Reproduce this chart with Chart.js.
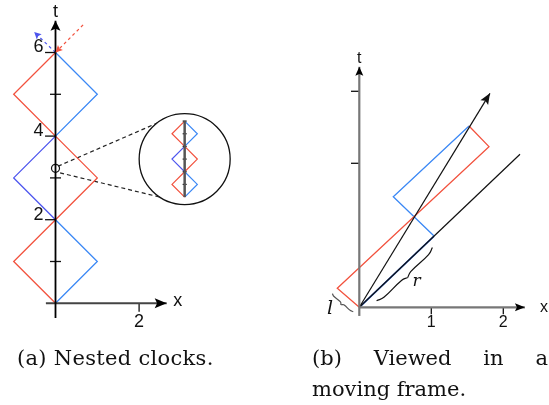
<!DOCTYPE html>
<html>
<head>
<meta charset="utf-8">
<script src="https://cdn.jsdelivr.net/npm/chart.js@4.4.0/dist/chart.umd.min.js"></script>
<style>
  body { margin: 0; background: #fff; }
  #wrap { position: relative; width: 549px; height: 405px; overflow: hidden; }
  #c { position: absolute; left: 0; top: 0; }
  .cap { position: absolute; font-family: "DejaVu Serif", serif; font-size: 21px; line-height: 21px; color: #111; white-space: nowrap; }
</style>
</head>
<body>
<div id="wrap">
  <canvas id="c" width="549" height="405"></canvas>
  <div class="cap" style="left:17px; top:348px; letter-spacing:0.3px;">(a) Nested clocks.</div>
  <div class="cap" style="left:312px; top:348px; width:236px; display:flex; justify-content:space-between;">
    <span>(b)</span><span>Viewed</span><span>in</span><span>a</span>
  </div>
  <div class="cap" style="left:312px; top:379px;">moving frame.</div>
</div>
<script>
// ---- (a) nested clocks, [x, t] ----
const clockRed  = [[0,0],[-1,1],[0,2],[1,3],[0,4],[-1,5],[0,6]];
const clockBlue = [[0,0],[1,1],[0,2],[-1,3],[0,4],[1,5],[0,6]];
const leftTTicks = [1,2,3,4,5,6];
const leftTLabels = [2,4,6];
const leftXTicks = [2];
const leftXLabels = [2];
const redIncoming = [[0.66,6.66],[0,6]];
const blueOutgoing = [[0,6],[-0.51,6.49]];
// magnified spot and the inset showing it
const zoomSpot = [0, 3.23];
const insetCentre = [3.09, 3.45];
const insetScale = 0.303;
const zoomLineUpper = [[0.06,3.28],[2.43,4.31]];
const zoomLineLower = [[0.11,3.12],[2.50,2.54]];

// ---- (b) viewed in a moving frame, [x, t] ----
const movRed  = [[0,0],[-0.306,0.264],[1.801,2.231],[1.524,2.518]];
const movBlue = [[0,0],[1.038,0.990],[0.472,1.536],[1.524,2.518]];
const worldLine = [[0,0],[1.815,2.972]];
const otherLine = [[0,0],[2.232,2.125]];
const rightXTicks = [1,2];
const rightXLabels = [1,2];
const rightTTicks = [2,3];
const rBrace = [0.236, 1.308];   // along the dark blue side
const lBrace = [0.025, 0.407];   // along the short red side

const pts = arr => arr.map(([x, y]) => ({ x: x, y: y }));

function line(data, color, ax, extra) {
    return Object.assign({
        data: pts(data), showLine: true, borderColor: color, borderWidth: 1.3,
        pointRadius: 0, fill: false, xAxisID: 'x' + ax, yAxisID: 'y' + ax
    }, extra || {});
}

function tickMarks(data, ax, radius, rotation, width) {
    return {
        data: pts(data), showLine: false, pointStyle: 'line', pointRadius: radius,
        rotation: rotation, pointBorderColor: '#111', pointBorderWidth: width || 1.3,
        xAxisID: 'x' + ax, yAxisID: 'y' + ax
    };
}

// curly brace next to the segment from origin along dir, between s0 and s1
function brace(dir, s0, s1, side, offs, color) {
    const len = Math.hypot(dir[0], dir[1]);
    const u = [dir[0] / len, dir[1] / len];
    const n = [u[1] * side, -u[0] * side];
    const L = s1 - s0;
    const at = (s, o) => [u[0] * s + n[0] * o, u[1] * s + n[1] * o];
    const half1 = [at(s0, offs[0]), at(s0 + 0.1 * L, offs[1]), at(s0 + 0.42 * L, offs[1]), at(s0 + 0.5 * L, offs[2])];
    const half2 = [at(s0 + 0.5 * L, offs[2]), at(s0 + 0.58 * L, offs[1]), at(s0 + 0.9 * L, offs[1]), at(s1, offs[0])];
    return [half1, half2].map(h => line(h, color, 'b', { tension: 0.45, borderWidth: 1.2 }));
}

const RED = '#f2523e', BLUE = '#3b88f5', PURPLE = '#4d55ee', DARKBLUE = '#1d5ad6';

// inset copies of the clocks
const toInset = ([x, t]) => [insetCentre[0] + x * insetScale, insetCentre[1] + (t - 3) * insetScale];
const insetRed = clockRed.map(toInset);
const insetBlue = clockBlue.map(toInset);
const insetAxis = [toInset([0, 0]), toInset([0, 6])];
const insetTicks = leftTTicks.map(t => toInset([0, t]));

// axis extents
const leftTTip = 6.76, leftXTip = 2.66;
const rightTTip = 3.34, rightXTip = 2.30;

const datasets = [
    // (a)
    line([[0,-0.35],[0,leftTTip]], '#000', 'a', { borderWidth: 1.8, arrow: { len: 10, width: 10, color: '#000' } }),
    line([[-0.23,0],[leftXTip,0]], '#444', 'a', { borderWidth: 2, arrow: { len: 12, width: 10, color: '#000' } }),
    tickMarks(leftTTicks.filter(t => t % 2 === 1).map(t => [0, t]), 'a', 5.5, 0),
    tickMarks(leftTTicks.filter(t => t % 2 === 0).map(t => [-0.126, t]), 'a', 5.2, 0),
    tickMarks(leftXTicks.map(x => [x, -0.1]), 'a', 4.3, 90),
    line(clockRed, RED, 'a'),
    line(clockBlue, BLUE, 'a', { segment: { borderColor: c => (c.p0DataIndex === 2 || c.p0DataIndex === 3) ? PURPLE : BLUE } }),
    line(redIncoming, RED, 'a', { borderDash: [3, 3], borderWidth: 1.2, arrow: { len: 7, width: 7 } }),
    line(blueOutgoing, PURPLE, 'a', { borderDash: [3, 3], borderWidth: 1.2, arrow: { len: 7, width: 7 } }),
    line(zoomLineUpper, '#222', 'a', { borderDash: [4, 3], borderWidth: 1.2 }),
    line(zoomLineLower, '#222', 'a', { borderDash: [4, 3], borderWidth: 1.2 }),
    { data: pts([zoomSpot]), showLine: false, pointRadius: 4, pointBorderWidth: 1.2,
      pointBorderColor: '#111', pointBackgroundColor: 'rgba(0,0,0,0)', xAxisID: 'xa', yAxisID: 'ya' },
    { data: pts([insetCentre]), showLine: false, pointRadius: 45.5, pointBorderWidth: 1.3,
      pointBorderColor: '#111', pointBackgroundColor: 'rgba(0,0,0,0)', xAxisID: 'xa', yAxisID: 'ya' },
    line(insetAxis, '#555', 'a', { borderWidth: 2.5 }),
    tickMarks(insetTicks, 'a', 2, 0, 1.2),
    line(insetRed, RED, 'a', { borderWidth: 1.2 }),
    line(insetBlue, BLUE, 'a', { borderWidth: 1.2, segment: { borderColor: c => (c.p0DataIndex === 2 || c.p0DataIndex === 3) ? PURPLE : BLUE } }),
    // (b)
    line([[0,-0.12],[0,rightTTip]], '#777', 'b', { borderWidth: 2.2, arrow: { len: 9, width: 8, color: '#000' } }),
    line([[0,0],[rightXTip,0]], '#777', 'b', { borderWidth: 2.2, arrow: { len: 10, width: 8, color: '#000' } }),
    tickMarks(rightTTicks.map(t => [-0.06, t]), 'b', 4, 0),
    tickMarks(rightXTicks.map(x => [x, -0.045]), 'b', 3.6, 90),
    line(worldLine, '#111', 'b', { borderWidth: 1.2, arrow: { len: 11, width: 9 } }),
    line(otherLine, '#111', 'b', { borderWidth: 1.2 }),
    line(movRed, RED, 'b'),
    line(movBlue, BLUE, 'b', { segment: { borderColor: c => c.p0DataIndex === 0 ? DARKBLUE : BLUE,
                                          borderWidth: c => c.p0DataIndex === 0 ? 1.7 : 1.3 } }),
    ...brace(movBlue[1], rBrace[0], rBrace[1], 1, [0.1, 0.135, 0.165], '#111'),
    ...brace(movRed[1], lBrace[0], lBrace[1], -1, [0.1, 0.115, 0.14], '#555')
];

// text: tick labels and axis names
const SANS = '18px "Liberation Sans", Arial, sans-serif';
const SANS_B = '16px "Liberation Sans", Arial, sans-serif';
const labelList = [
    ...leftTLabels.map(t => ({ text: String(t), ax: 'a', x: 0, y: t, dx: -17, dy: -5, font: SANS })),
    ...leftXLabels.map(x => ({ text: String(x), ax: 'a', x: x, y: 0, dx: 0, dy: 19, font: SANS })),
    { text: 't', ax: 'a', x: 0, y: leftTTip, dx: 0, dy: -9, font: SANS },
    { text: 'x', ax: 'a', x: leftXTip, y: 0, dx: 11, dy: -2, font: SANS },
    ...rightXLabels.map(x => ({ text: String(x), ax: 'b', x: x, y: 0, dx: 0, dy: 15, font: SANS_B })),
    { text: 't', ax: 'b', x: 0, y: rightTTip, dx: 0, dy: -8, font: SANS_B },
    { text: 'x', ax: 'b', x: rightXTip, y: 0, dx: 19, dy: 0, font: SANS_B },
    { text: 'r', ax: 'b', x: 0.797, y: 0.356, dx: 0, dy: 0, font: 'italic 17px "DejaVu Serif", serif' },
    { text: 'l', ax: 'b', x: -0.408, y: -0.01, dx: 0, dy: 1, font: 'italic 19px "DejaVu Serif", serif' }
];

const arrowHeads = {
    id: 'arrowHeads',
    afterDatasetsDraw(chart) {
        const ctx = chart.ctx;
        chart.data.datasets.forEach((ds, i) => {
            if (!ds.arrow) return;
            const p = chart.getDatasetMeta(i).data;
            const a = p[p.length - 2], b = p[p.length - 1];
            const ang = Math.atan2(b.y - a.y, b.x - a.x);
            ctx.save();
            ctx.translate(b.x, b.y);
            ctx.rotate(ang);
            ctx.beginPath();
            ctx.moveTo(0, 0);
            ctx.lineTo(-ds.arrow.len, -ds.arrow.width / 2);
            ctx.lineTo(-ds.arrow.len * 0.8, 0);
            ctx.lineTo(-ds.arrow.len, ds.arrow.width / 2);
            ctx.closePath();
            ctx.fillStyle = ds.arrow.color || ds.borderColor;
            ctx.fill();
            ctx.restore();
        });
    }
};

const textLabels = {
    id: 'textLabels',
    afterDraw(chart) {
        const ctx = chart.ctx;
        ctx.save();
        ctx.textAlign = 'center';
        ctx.textBaseline = 'middle';
        ctx.fillStyle = '#111';
        labelList.forEach(l => {
            const px = chart.scales['x' + l.ax].getPixelForValue(l.x) + l.dx;
            const py = chart.scales['y' + l.ax].getPixelForValue(l.y) + l.dy;
            ctx.font = l.font;
            ctx.fillText(l.text, px, py);
        });
        ctx.restore();
    }
};

// pixel origin and pixels per unit of each panel
const A = { ox: 55.5, oy: 303.3, k: 41.8 };
const B = { ox: 359.3, oy: 307.3, k: 72 };
const W = 549, H = 405;
const hidden = (min, max) => ({ type: 'linear', display: false, min: min, max: max });

new Chart(document.getElementById('c'), {
    type: 'scatter',
    data: { datasets: datasets },
    options: {
        responsive: false,
        animation: false,
        events: [],
        layout: { padding: 0, autoPadding: false },
        plugins: { legend: { display: false }, tooltip: { enabled: false } },
        scales: {
            xa: hidden(-A.ox / A.k, (W - A.ox) / A.k),
            ya: hidden((A.oy - H) / A.k, A.oy / A.k),
            xb: hidden(-B.ox / B.k, (W - B.ox) / B.k),
            yb: hidden((B.oy - H) / B.k, B.oy / B.k)
        }
    },
    plugins: [arrowHeads, textLabels]
});
</script>
</body>
</html>
